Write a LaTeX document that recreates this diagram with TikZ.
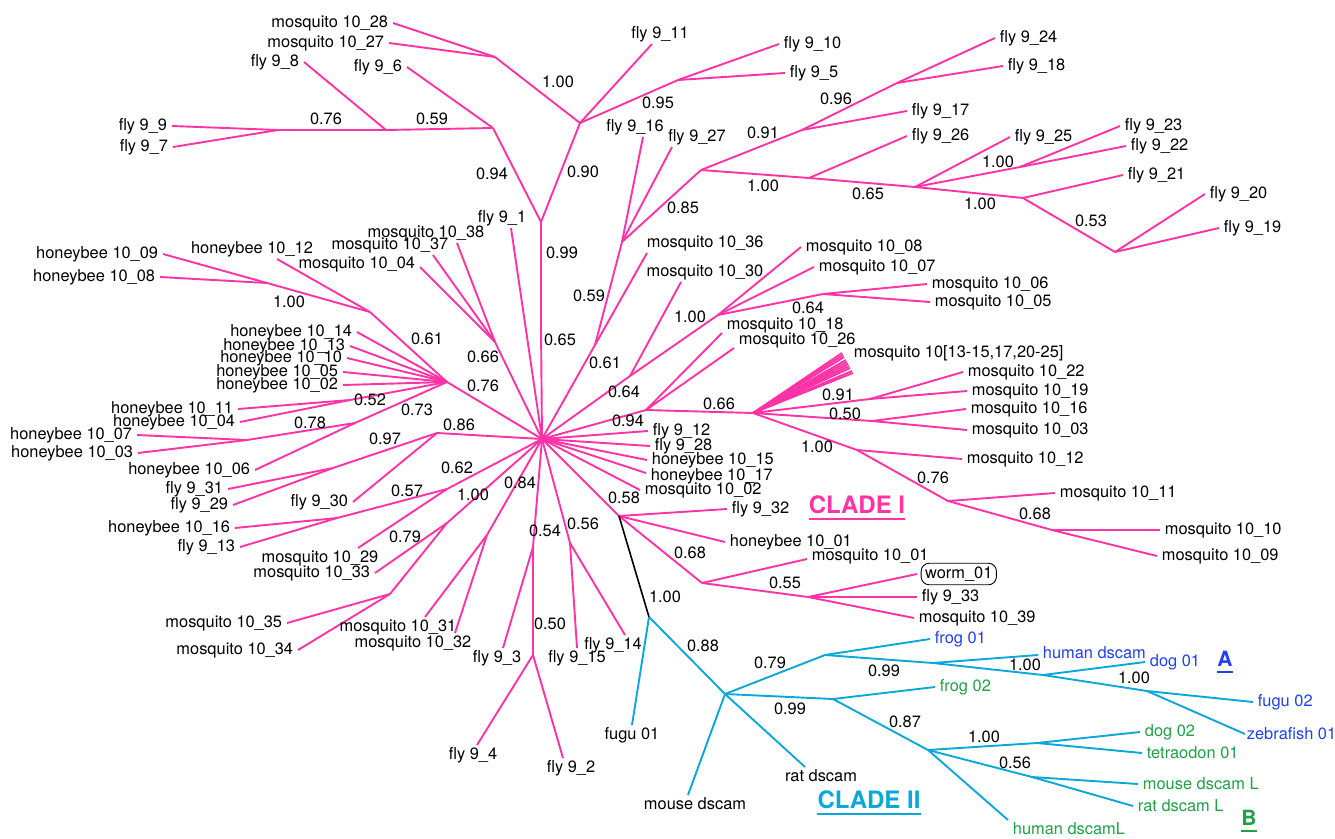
\documentclass[tikz,border=0pt]{standalone}
\usepackage{fontspec}
\setmainfont{TeX Gyre Heros}
\usetikzlibrary{shapes}
\pgfdeclarelayer{edgelayer}
\pgfdeclarelayer{nodelayer}
\pgfsetlayers{edgelayer,nodelayer,main}
\tikzstyle{none}=[inner sep=0pt]
\tikzstyle{leaf}=[inner xsep=4pt, inner ysep=1.5pt]
\tikzstyle{pinkedge}=[draw=pinkc, line width=1.9pt]
\tikzstyle{cyanedge}=[draw=cyanc, line width=1.9pt]
\tikzstyle{cladelab}=[inner sep=0pt, font=\fontsize{24}{28}\selectfont\bfseries]
\tikzstyle{grouplab}=[inner sep=0pt, font=\fontsize{21}{25}\selectfont\bfseries]
\definecolor{pinkc}{rgb}{1.0,0.2,0.65}
\definecolor{cyanc}{rgb}{0.04,0.66,0.85}
\definecolor{bluec}{rgb}{0.12,0.25,0.95}
\definecolor{greenc}{rgb}{0.12,0.63,0.27}

\begin{document}
\begin{tikzpicture}[x=1pt, y=-1pt, font=\fontsize{16.4}{19}\selectfont]
    \useasboundingbox (0,0) rectangle (1335,838);
    \begin{pgfonlayer}{nodelayer}
	% inner nodes of the tree
	\node [style=none] (h) at (542,439) {};
	\node [style=none] (t65) at (541,328) {};
	\node [style=none] (t99) at (541,222) {};
	\node [style=none] (t94) at (493,128) {};
	\node [style=none] (t90) at (580,123) {};
	\node [style=none] (t59) at (386,130) {};
	\node [style=none] (t76) at (278,130) {};
	\node [style=none] (t100) at (495,57) {};
	\node [style=none] (t95) at (678,80) {};
	\node [style=none] (r61) at (595,345) {};
	\node [style=none] (r59) at (622,242) {};
	\node [style=none] (r85) at (701,170) {};
	\node [style=none] (r91) at (802,130) {};
	\node [style=none] (r96) at (897,83) {};
	\node [style=none] (r100) at (809,178) {};
	\node [style=none] (r65) at (915,187) {};
	\node [style=none] (r100b) at (1020,167) {};
	\node [style=none] (r100c) at (1023,198) {};
	\node [style=none] (r53) at (1115,252) {};
	\node [style=none] (q64) at (630,376) {};
	\node [style=none] (q100) at (718,315) {};
	\node [style=none] (q64b) at (823,294) {};
	\node [style=none] (q94) at (646,410) {};
	\node [style=none] (q66) at (753,413) {};
	\node [style=none] (q91) at (870,399) {};
	\node [style=none] (q50) at (872,421) {};
	\node [style=none] (q100b) at (857,450) {};
	\node [style=none] (q76) at (948,501) {};
	\node [style=none] (q68) at (1052,530) {};
	\node [style=none] (b66) at (495,342) {};
	\node [style=none] (b76) at (447,382) {};
	\node [style=none] (b61) at (370,312) {};
	\node [style=none] (b100) at (267,283) {};
	\node [style=none] (b52) at (350,400) {};
	\node [style=none] (b73) at (355,423) {};
	\node [style=none] (b78) at (247,440) {};
	\node [style=none] (l86) at (437,433) {};
	\node [style=none] (l97) at (333,468) {};
	\node [style=none] (l62) at (447,489) {};
	\node [style=none] (l57) at (337,518) {};
	\node [style=none] (l100) at (447,523) {};
	\node [style=none] (l79) at (390,594) {};
	\node [style=none] (l84) at (487,535) {};
	\node [style=none] (l54) at (533,547) {};
	\node [style=none] (l50) at (533,655) {};
	\node [style=none] (l56) at (570,543) {};
	\node [style=none] (s58) at (619,516) {};
	\node [style=none] (s68) at (702,583) {};
	\node [style=none] (s55) at (808,597) {};
	\node [style=none] (c100) at (649,617) {};
	\node [style=none] (c88) at (725,694) {};
	\node [style=none] (c79) at (825,655) {};
	\node [style=none] (c99a) at (833,699) {};
	\node [style=none] (c99b) at (933,663) {};
	\node [style=none] (c100a) at (1043,675) {};
	\node [style=none] (c100b) at (1147,691) {};
	\node [style=none] (c87) at (928,750) {};
	\node [style=none] (c100c) at (1037,743) {};
	\node [style=none] (c56) at (1032,777) {};
	% leaves, top
	\node [style=none, label={[leaf]180:mosquito 10\_28}] (m1028) at (393,23) {};
	\node [style=none, label={[leaf]180:mosquito 10\_27}] (m1027) at (389,43) {};
	\node [style=none, label={[leaf]180:fly 9\_8}] (f98) at (304,62) {};
	\node [style=none, label={[leaf]180:fly 9\_6}] (f96) at (407,67) {};
	\node [style=none, label={[leaf]180:fly 9\_9}] (f99) at (172,126) {};
	\node [style=none, label={[leaf]180:fly 9\_7}] (f97) at (173,147) {};
	\node [style=none, label={[leaf,xshift=8pt]90:fly 9\_11}] (f911) at (652,44) {};
	\node [style=none, label={[leaf]0:fly 9\_10}] (f910) at (779,44) {};
	\node [style=none, label={[leaf]0:fly 9\_5}] (f95) at (785,73) {};
	\node [style=none, label={[leaf,xshift=-8pt]90:fly 9\_16}] (f916) at (643,137) {};
	\node [style=none, label={[leaf,xshift=25pt]90:fly 9\_27}] (f927) at (672,147) {};
	\node [style=none, label={[leaf]0:fly 9\_17}] (f917) at (907,111) {};
	\node [style=none, label={[leaf]0:fly 9\_24}] (f924) at (995,38) {};
	\node [style=none, label={[leaf]0:fly 9\_18}] (f918) at (1003,66) {};
	\node [style=none, label={[leaf]0:fly 9\_26}] (f926) at (907,136) {};
	\node [style=none, label={[leaf]0:fly 9\_25}] (f925) at (1010,137) {};
	\node [style=none, label={[leaf]0:fly 9\_23}] (f923) at (1120,126) {};
	\node [style=none, label={[leaf]0:fly 9\_22}] (f922) at (1126,146) {};
	\node [style=none, label={[leaf]0:fly 9\_21}] (f921) at (1123,175) {};
	\node [style=none, label={[leaf]0:fly 9\_20}] (f920) at (1205,194) {};
	\node [style=none, label={[leaf]0:fly 9\_19}] (f919) at (1219,228) {};
	\node [style=none, label={[leaf,xshift=-9pt]90:fly 9\_1}] (f91) at (511,228) {};
	% leaves, left
	\node [style=none, label={[leaf,xshift=-31pt]90:mosquito 10\_38}] (m1038) at (457,243) {};
	\node [style=none, label={[leaf,xshift=-43pt]90:mosquito 10\_37}] (m1037) at (433,255) {};
	\node [style=none, label={[leaf,yshift=3pt]180:mosquito 10\_04}] (m1004) at (420,267) {};
	\node [style=none, label={[leaf]180:honeybee 10\_09}] (hb1009) at (163,254) {};
	\node [style=none, label={[leaf]180:honeybee 10\_08}] (hb1008) at (160,277) {};
	\node [style=none, label={[leaf,xshift=-25pt]90:honeybee 10\_12}] (hb1012) at (277,259) {};
	\node [style=none, label={[leaf]180:honeybee 10\_14}] (hb1014) at (357,332) {};
	\node [style=none, label={[leaf]180:honeybee 10\_13}] (hb1013) at (350,346) {};
	\node [style=none, label={[leaf]180:honeybee 10\_10}] (hb1010) at (347,358) {};
	\node [style=none, label={[leaf]180:honeybee 10\_05}] (hb1005) at (343,372) {};
	\node [style=none, label={[leaf]180:honeybee 10\_02}] (hb1002) at (343,385) {};
	\node [style=none, label={[leaf]180:honeybee 10\_11}] (hb1011) at (238,409) {};
	\node [style=none, label={[leaf]180:honeybee 10\_04}] (hb1004) at (240,422) {};
	\node [style=none, label={[leaf]180:honeybee 10\_07}] (hb1007) at (137,435) {};
	\node [style=none, label={[leaf]180:honeybee 10\_03}] (hb1003) at (138,453) {};
	\node [style=none, label={[leaf]180:honeybee 10\_06}] (hb1006) at (255,470) {};
	\node [style=none, label={[leaf]180:fly 9\_31}] (f931) at (228,489) {};
	\node [style=none, label={[leaf]180:fly 9\_29}] (f929) at (233,505) {};
	\node [style=none, label={[leaf]180:fly 9\_30}] (f930) at (353,502) {};
	\node [style=none, label={[leaf]180:honeybee 10\_16}] (hb1016) at (235,528) {};
	\node [style=none, label={[leaf]180:fly 9\_13}] (f913) at (240,547) {};
	\node [style=none, label={[leaf,xshift=-38pt]-90:mosquito 10\_29}] (m1029) at (358,548) {};
	\node [style=none, label={[leaf]180:mosquito 10\_33}] (m1033) at (375,573) {};
	\node [style=none, label={[leaf]180:mosquito 10\_35}] (m1035) at (287,623) {};
	\node [style=none, label={[leaf]180:mosquito 10\_34}] (m1034) at (298,650) {};
	\node [style=none, label={[leaf,xshift=-27pt]-90:mosquito 10\_31}] (m1031) at (425,617) {};
	\node [style=none, label={[leaf,xshift=-42pt]-90:mosquito 10\_32}] (m1032) at (455,633) {};
	\node [style=none, label={[leaf,xshift=-6pt]-90:fly 9\_3}] (f93) at (503,648) {};
	\node [style=none, label={[leaf,xshift=-4pt]-90:fly 9\_4}] (f94) at (477,745) {};
	\node [style=none, label={[leaf,xshift=8pt]-90:fly 9\_2}] (f92) at (563,758) {};
	\node [style=none, label={[leaf]-90:fly 9\_15}] (f915) at (577,648) {};
	\node [style=none, label={[leaf,xshift=-12pt]-90:fly 9\_14}] (f914) at (625,635) {};
	% leaves, right of the centre
	\node [style=none, label={[leaf]0:fly 9\_12}] (f912) at (648,431) {};
	\node [style=none, label={[leaf]0:fly 9\_28}] (f928) at (650,446) {};
	\node [style=none, label={[leaf]0:honeybee 10\_15}] (hb1015) at (647,460) {};
	\node [style=none, label={[leaf,yshift=-3pt]0:honeybee 10\_17}] (hb1017) at (646,473) {};
	\node [style=none, label={[leaf]0:mosquito 10\_02}] (m1002) at (640,490) {};
	\node [style=none, label={[leaf]0:fly 9\_32}] (f932) at (727,509) {};
	\node [style=none, label={[leaf]0:honeybee 10\_01}] (hb1001) at (725,542) {};
	\node [style=none, label={[leaf,yshift=3pt]0:mosquito 10\_01}] (m1001) at (807,559) {};
	\node [style=none, label={[leaf, draw, rounded corners=8pt, line width=0.9pt, inner ysep=3.5pt, xshift=3pt]0:worm\_01}] (worm) at (917,574) {};
	\node [style=none, label={[leaf]0:fly 9\_33}] (f933) at (917,597) {};
	\node [style=none, label={[leaf]0:mosquito 10\_39}] (m1039) at (914,618) {};
	\node [style=none, label={[leaf,xshift=-5pt]45:mosquito 10\_36}] (m1036) at (647,253) {};
	\node [style=none, label={[leaf,xshift=24pt]90:mosquito 10\_30}] (m1030) at (681,282) {};
	\node [style=none, label={[leaf]0:mosquito 10\_08}] (m1008) at (801,247) {};
	\node [style=none, label={[leaf]0:mosquito 10\_07}] (m1007) at (814,267) {};
	\node [style=none, label={[leaf]0:mosquito 10\_06}] (m1006) at (927,284) {};
	\node [style=none, label={[leaf]0:mosquito 10\_05}] (m1005) at (930,302) {};
	\node [style=none, label={[leaf,yshift=-2pt]45:mosquito 10\_18}] (m1018) at (722,333) {};
	\node [style=none, label={[leaf,yshift=-2pt]45:mosquito 10\_26}] (m1026) at (734,348) {};
	\node [style=none, label={[leaf,xshift=7pt]0:mosquito 10[13-15,17,20-25]}] (fan0) at (842,353) {};
	\node [style=none] (fan1) at (843,355) {};
	\node [style=none] (fan2) at (844,357) {};
	\node [style=none] (fan3) at (846,360) {};
	\node [style=none] (fan4) at (847,362) {};
	\node [style=none] (fan5) at (848,364) {};
	\node [style=none] (fan6) at (849,366) {};
	\node [style=none] (fan7) at (850,368) {};
	\node [style=none] (fan8) at (852,371) {};
	\node [style=none] (fan9) at (853,373) {};
	\node [style=none, label={[leaf]0:mosquito 10\_22}] (m1022) at (963,372) {};
	\node [style=none, label={[leaf]0:mosquito 10\_19}] (m1019) at (967,391) {};
	\node [style=none, label={[leaf]0:mosquito 10\_16}] (m1016) at (966,409) {};
	\node [style=none, label={[leaf]0:mosquito 10\_03}] (m1003) at (967,430) {};
	\node [style=none, label={[leaf]0:mosquito 10\_12}] (m1012) at (962,459) {};
	\node [style=none, label={[leaf]0:mosquito 10\_11}] (m1011) at (1055,493) {};
	\node [style=none, label={[leaf]0:mosquito 10\_10}] (m1010) at (1160,530) {};
	\node [style=none, label={[leaf]0:mosquito 10\_09}] (m1009) at (1157,556) {};
	% leaves, vertebrates
	\node [style=none, label={[leaf]-90:fugu 01}] (fugu01) at (632,725) {};
	\node [style=none, label={[leaf,xshift=7pt]-90:mouse dscam}] (mdscam) at (688,795) {};
	\node [style=none, label={[leaf,xshift=16pt]-90:rat dscam}] (rdscam) at (805,767) {};
	\node [style=none, label={[leaf,text=bluec]0:frog 01}] (frog01) at (930,639) {};
	\node [style=none, label={[leaf,text=bluec,yshift=2pt]0:human dscam}] (hdscam) at (1038,655) {};
	\node [style=none, label={[leaf,text=bluec]0:dog 01}] (dog01) at (1145,662) {};
	\node [style=none, label={[leaf,text=bluec]0:fugu 02}] (fugu02) at (1253,702) {};
	\node [style=none, label={[leaf,text=bluec,xshift=-3pt]0:zebrafish 01}] (zebra01) at (1245,734) {};
	\node [style=none, label={[leaf,text=greenc]0:frog 02}] (frog02) at (935,687) {};
	\node [style=none, label={[leaf,text=greenc]-45:human dscamL}] (hdscamL) at (1008,820) {};
	\node [style=none, label={[leaf,text=greenc]0:dog 02}] (dog02) at (1140,732) {};
	\node [style=none, label={[leaf,text=greenc]0:tetraodon 01}] (tetra01) at (1142,753) {};
	\node [style=none, label={[leaf,text=greenc]0:mouse dscam L}] (mdscamL) at (1138,784) {};
	\node [style=none, label={[leaf,text=greenc]0:rat dscam L}] (rdscamL) at (1133,806) {};
	% support values
	\node [style=none] (v1) at (560,340) {0.65};
	\node [style=none] (v2) at (562,253) {0.99};
	\node [style=none] (v3) at (492,174) {0.94};
	\node [style=none] (v4) at (583,172) {0.90};
	\node [style=none] (v5) at (432,119) {0.59};
	\node [style=none] (v6) at (326,119) {0.76};
	\node [style=none] (v7) at (558,82) {1.00};
	\node [style=none] (v8) at (658,103) {0.95};
	\node [style=none] (v9) at (605,363) {0.61};
	\node [style=none] (v10) at (589,296) {0.59};
	\node [style=none] (v11) at (683,208) {0.85};
	\node [style=none] (v12) at (763,133) {0.91};
	\node [style=none] (v13) at (836,99) {0.96};
	\node [style=none] (v14) at (763,186) {1.00};
	\node [style=none] (v15) at (868,194) {0.65};
	\node [style=none] (v16) at (998,162) {1.00};
	\node [style=none] (v17) at (980,204) {1.00};
	\node [style=none] (v18) at (1091,221) {0.53};
	\node [style=none] (v19) at (624,392) {0.64};
	\node [style=none] (v20) at (690,317) {1.00};
	\node [style=none] (v21) at (808,308) {0.64};
	\node [style=none] (v22) at (628,421) {0.94};
	\node [style=none] (v23) at (719,404) {0.66};
	\node [style=none] (v24) at (838,395) {0.91};
	\node [style=none] (v25) at (845,414) {0.50};
	\node [style=none] (v26) at (817,447) {1.00};
	\node [style=none] (v27) at (933,478) {0.76};
	\node [style=none] (v28) at (1035,514) {0.68};
	\node [style=none] (v29) at (483,357) {0.66};
	\node [style=none] (v30) at (483,386) {0.76};
	\node [style=none] (v31) at (427,339) {0.61};
	\node [style=none] (v32) at (289,302) {1.00};
	\node [style=none] (v33) at (370,400) {0.52};
	\node [style=none] (v34) at (417,410) {0.73};
	\node [style=none] (v35) at (310,423) {0.78};
	\node [style=none] (v36) at (459,425) {0.86};
	\node [style=none] (v37) at (385,439) {0.97};
	\node [style=none] (v38) at (457,468) {0.62};
	\node [style=none] (v39) at (407,491) {0.57};
	\node [style=none] (v40) at (473,495) {1.00};
	\node [style=none] (v41) at (405,537) {0.79};
	\node [style=none] (v42) at (520,483) {0.84};
	\node [style=none] (v43) at (545,531) {0.54};
	\node [style=none] (v44) at (550,624) {0.50};
	\node [style=none] (v45) at (583,524) {0.56};
	\node [style=none] (v46) at (624,498) {0.58};
	\node [style=none] (v47) at (690,553) {0.68};
	\node [style=none] (v48) at (785,583) {0.55};
	\node [style=none] (v49) at (665,597) {1.00};
	\node [style=none] (v50) at (703,646) {0.88};
	\node [style=none] (v51) at (770,663) {0.79};
	\node [style=none] (v52) at (790,709) {0.99};
	\node [style=none] (v53) at (884,671) {0.99};
	\node [style=none] (v54) at (1025,665) {1.00};
	\node [style=none] (v55) at (1134,678) {1.00};
	\node [style=none] (v56) at (905,722) {0.87};
	\node [style=none] (v57) at (984,737) {1.00};
	\node [style=none] (v58) at (1015,763) {0.56};
	% clade names
	\node [style=cladelab, text=pinkc] (cladeI) at (857,505) {CLADE I};
	\node [style=cladelab, text=cyanc] (cladeII) at (869,800) {CLADE II};
	\node [style=grouplab, text=bluec] (grpA) at (1225,659) {A};
	\node [style=grouplab, text=greenc] (grpB) at (1249,818) {B};
    \end{pgfonlayer}
    \begin{pgfonlayer}{edgelayer}
	\begin{scope}[pinkedge]
	\draw (h.center) to (t65.center);
	\draw (t65.center) to (t99.center);
	\draw (t99.center) to (t94.center);
	\draw (t99.center) to (t90.center);
	\draw (t94.center) to (t59.center);
	\draw (t94.center) to (f96.center);
	\draw (t59.center) to (t76.center);
	\draw (t59.center) to (f98.center);
	\draw (t76.center) to (f99.center);
	\draw (t76.center) to (f97.center);
	\draw (t90.center) to (t100.center);
	\draw (t100.center) to (m1028.center);
	\draw (t100.center) to (m1027.center);
	\draw (t90.center) to (f911.center);
	\draw (t90.center) to (t95.center);
	\draw (t95.center) to (f910.center);
	\draw (t95.center) to (f95.center);
	\draw (h.center) to (f91.center);
	\draw (h.center) to (r61.center);
	\draw (r61.center) to (r59.center);
	\draw (r61.center) to (m1036.center);
	\draw (r59.center) to (f916.center);
	\draw (r59.center) to (f927.center);
	\draw (r59.center) to (r85.center);
	\draw (r85.center) to (r91.center);
	\draw (r91.center) to (f917.center);
	\draw (r91.center) to (r96.center);
	\draw (r96.center) to (f924.center);
	\draw (r96.center) to (f918.center);
	\draw (r85.center) to (r100.center);
	\draw (r100.center) to (f926.center);
	\draw (r100.center) to (r65.center);
	\draw (r65.center) to (f925.center);
	\draw (r65.center) to (r100b.center);
	\draw (r100b.center) to (f923.center);
	\draw (r100b.center) to (f922.center);
	\draw (r65.center) to (r100c.center);
	\draw (r100c.center) to (f921.center);
	\draw (r100c.center) to (r53.center);
	\draw (r53.center) to (f920.center);
	\draw (r53.center) to (f919.center);
	\draw (h.center) to (q64.center);
	\draw (q64.center) to (m1030.center);
	\draw (q64.center) to (q100.center);
	\draw (q100.center) to (m1008.center);
	\draw (q100.center) to (m1007.center);
	\draw (q100.center) to (q64b.center);
	\draw (q64b.center) to (m1006.center);
	\draw (q64b.center) to (m1005.center);
	\draw (h.center) to (q94.center);
	\draw (q94.center) to (m1018.center);
	\draw (q94.center) to (m1026.center);
	\draw (q94.center) to (q66.center);
	\draw (q66.center) to (fan0.center);
	\draw (q66.center) to (fan1.center);
	\draw (q66.center) to (fan2.center);
	\draw (q66.center) to (fan3.center);
	\draw (q66.center) to (fan4.center);
	\draw (q66.center) to (fan5.center);
	\draw (q66.center) to (fan6.center);
	\draw (q66.center) to (fan7.center);
	\draw (q66.center) to (fan8.center);
	\draw (q66.center) to (fan9.center);
	\draw (q66.center) to (q91.center);
	\draw (q91.center) to (m1022.center);
	\draw (q91.center) to (m1019.center);
	\draw (q66.center) to (q50.center);
	\draw (q50.center) to (m1016.center);
	\draw (q50.center) to (m1003.center);
	\draw (q66.center) to (q100b.center);
	\draw (q100b.center) to (m1012.center);
	\draw (q100b.center) to (q76.center);
	\draw (q76.center) to (m1011.center);
	\draw (q76.center) to (q68.center);
	\draw (q68.center) to (m1010.center);
	\draw (q68.center) to (m1009.center);
	\draw (h.center) to (f912.center);
	\draw (h.center) to (f928.center);
	\draw (h.center) to (hb1015.center);
	\draw (h.center) to (hb1017.center);
	\draw (h.center) to (m1002.center);
	\draw (h.center) to (s58.center);
	\draw (s58.center) to (f932.center);
	\draw (s58.center) to (hb1001.center);
	\draw (s58.center) to (s68.center);
	\draw (s68.center) to (m1001.center);
	\draw (s68.center) to (s55.center);
	\draw (s55.center) to (worm.center);
	\draw (s55.center) to (f933.center);
	\draw (s55.center) to (m1039.center);
	\draw (h.center) to (b66.center);
	\draw (b66.center) to (m1038.center);
	\draw (b66.center) to (m1037.center);
	\draw (b66.center) to (m1004.center);
	\draw (h.center) to (b76.center);
	\draw (b76.center) to (b61.center);
	\draw (b61.center) to (hb1012.center);
	\draw (b61.center) to (b100.center);
	\draw (b100.center) to (hb1009.center);
	\draw (b100.center) to (hb1008.center);
	\draw (b76.center) to (hb1014.center);
	\draw (b76.center) to (hb1013.center);
	\draw (b76.center) to (hb1010.center);
	\draw (b76.center) to (hb1005.center);
	\draw (b76.center) to (hb1002.center);
	\draw (b76.center) to (b52.center);
	\draw (b52.center) to (hb1011.center);
	\draw (b52.center) to (hb1004.center);
	\draw (b76.center) to (b73.center);
	\draw (b73.center) to (b78.center);
	\draw (b78.center) to (hb1007.center);
	\draw (b78.center) to (hb1003.center);
	\draw (b73.center) to (hb1006.center);
	\draw (h.center) to (l86.center);
	\draw (l86.center) to (l97.center);
	\draw (l97.center) to (f931.center);
	\draw (l97.center) to (f929.center);
	\draw (l86.center) to (f930.center);
	\draw (h.center) to (l62.center);
	\draw (l62.center) to (l57.center);
	\draw (l57.center) to (hb1016.center);
	\draw (l57.center) to (f913.center);
	\draw (l62.center) to (m1029.center);
	\draw (h.center) to (l100.center);
	\draw (l100.center) to (m1033.center);
	\draw (l100.center) to (l79.center);
	\draw (l79.center) to (m1035.center);
	\draw (l79.center) to (m1034.center);
	\draw (h.center) to (l84.center);
	\draw (l84.center) to (m1031.center);
	\draw (l84.center) to (m1032.center);
	\draw (h.center) to (l54.center);
	\draw (l54.center) to (f93.center);
	\draw (l54.center) to (l50.center);
	\draw (l50.center) to (f94.center);
	\draw (l50.center) to (f92.center);
	\draw (h.center) to (l56.center);
	\draw (l56.center) to (f915.center);
	\draw (l56.center) to (f914.center);
	\end{scope}
	\draw [line width=1.6pt] (s58.center) to (c100.center);
	\begin{scope}[cyanedge]
	\draw (c100.center) to (fugu01.center);
	\draw (c100.center) to (c88.center);
	\draw (c88.center) to (mdscam.center);
	\draw (c88.center) to (rdscam.center);
	\draw (c88.center) to (c79.center);
	\draw (c79.center) to (frog01.center);
	\draw (c79.center) to (c99b.center);
	\draw (c99b.center) to (hdscam.center);
	\draw (c99b.center) to (c100a.center);
	\draw (c100a.center) to (dog01.center);
	\draw (c100a.center) to (c100b.center);
	\draw (c100b.center) to (fugu02.center);
	\draw (c100b.center) to (zebra01.center);
	\draw (c88.center) to (c99a.center);
	\draw (c99a.center) to (frog02.center);
	\draw (c99a.center) to (c87.center);
	\draw (c87.center) to (hdscamL.center);
	\draw (c87.center) to (c100c.center);
	\draw (c100c.center) to (dog02.center);
	\draw (c100c.center) to (tetra01.center);
	\draw (c87.center) to (c56.center);
	\draw (c56.center) to (mdscamL.center);
	\draw (c56.center) to (rdscamL.center);
	\end{scope}
	% underlines of the clade names
	\draw [pinkc, line width=1.8pt] ([yshift=-5pt]cladeI.base west) to ([yshift=-5pt]cladeI.base east);
	\draw [cyanc, line width=1.8pt] ([yshift=-5.5pt]cladeII.base west) to ([yshift=-5.5pt]cladeII.base east);
	\draw [bluec, line width=1.5pt] ([yshift=-5.5pt]grpA.base west) to ([yshift=-5.5pt]grpA.base east);
	\draw [greenc, line width=1.5pt] ([yshift=-5.5pt]grpB.base west) to ([yshift=-5.5pt]grpB.base east);
    \end{pgfonlayer}
\end{tikzpicture}
\end{document}
